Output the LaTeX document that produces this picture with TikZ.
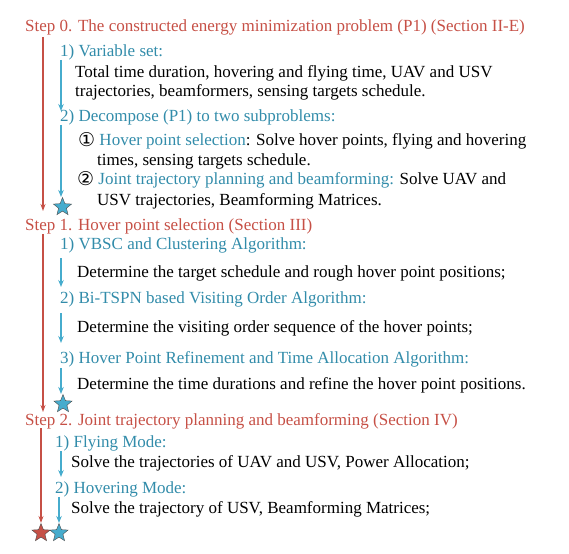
\documentclass[tikz,border=0pt]{standalone}
\usepackage{fontspec}
\setmainfont{Liberation Serif}
\newfontfamily\circfont{DejaVu Sans}
\usetikzlibrary{shapes.geometric,arrows.meta}
\definecolor{stepred}{RGB}{198,80,70}
\definecolor{subblue}{RGB}{50,140,170}
\definecolor{arrblue}{RGB}{70,172,205}
\tikzset{
  steptxt/.style={anchor=base west,inner sep=0pt,text=stepred,font=\fontsize{17}{20}\selectfont},
  subtxt/.style={anchor=base west,inner sep=0pt,text=subblue,font=\fontsize{17}{20}\selectfont},
  bodytxt/.style={anchor=base west,inner sep=0pt,text=black,font=\fontsize{17}{20}\selectfont},
  redarr/.style={draw=stepred,line width=1.4pt,-{Stealth[length=7pt,width=5pt]}},
  bluearr/.style={draw=arrblue,line width=1.8pt,-{Stealth[length=7pt,width=5.5pt]}},
  bluestar/.style={star,star points=5,star point ratio=2.3,minimum size=19pt,inner sep=0pt,fill=arrblue,draw=black!70,line width=0.4pt},
  redstar/.style={star,star points=5,star point ratio=2.3,minimum size=19pt,inner sep=0pt,fill=stepred,draw=black!70,line width=0.4pt}
}
\newcommand{\circnum}[1]{{\circfont\fontsize{19}{20}\selectfont\raisebox{-0.5pt}{#1}}}
\begin{document}
\begin{tikzpicture}[x=1pt,y=-1pt]
\useasboundingbox (0,0) rectangle (569,553);
% texts
\node[steptxt] (s0) at (25,32) {Step 0. The constructed energy minimization problem (P1) (Section II-E)};
\node[subtxt] (s0a) at (60,57) {1) Variable set:};
\node[bodytxt] (s0a1) at (75,78) {Total time duration, hovering and flying time, UAV and USV};
\node[bodytxt] (s0a2) at (75,97) {trajectories, beamformers, sensing targets schedule.};
\node[subtxt] (s0b) at (60,122) {2) Decompose (P1) to two subproblems:};
\node[bodytxt] (s0b1) at (78,146) {\circnum{①} \textcolor{subblue}{Hover point selection}: Solve hover points, flying and hovering};
\node[bodytxt] (s0b2) at (97,166) {times, sensing targets schedule.};
\node[bodytxt] (s0b3) at (77,185) {\circnum{②} \textcolor{subblue}{Joint trajectory planning and beamforming:} Solve UAV and};
\node[bodytxt] (s0b4) at (97,205) {USV trajectories, Beamforming Matrices.};
\node[steptxt] (s1) at (25,230) {Step 1. Hover point selection (Section III)};
\node[subtxt] (s1a) at (60,249) {1) VBSC and Clustering Algorithm:};
\node[bodytxt] (s1a1) at (77,277) {Determine the target schedule and rough hover point positions;};
\node[subtxt] (s1b) at (60,303) {2) Bi-TSPN based Visiting Order Algorithm:};
\node[bodytxt] (s1b1) at (77,332) {Determine the visiting order sequence of the hover points;};
\node[subtxt] (s1c) at (60,363) {3) Hover Point Refinement and Time Allocation Algorithm:};
\node[bodytxt] (s1c1) at (77,389) {Determine the time durations and refine the hover point positions.};
\node[steptxt] (s2) at (25,425) {Step 2. Joint trajectory planning and beamforming (Section IV)};
\node[subtxt] (s2a) at (55,447) {1) Flying Mode:};
\node[bodytxt] (s2a1) at (71,467) {Solve the trajectories of UAV and USV, Power Allocation;};
\node[subtxt] (s2b) at (55,493) {2) Hovering Mode:};
\node[bodytxt] (s2b1) at (71,513) {Solve the trajectory of USV, Beamforming Matrices;};
% stars
\node[bluestar] (st0) at (62.5,207) {};
\node[bluestar] (st1) at (63,404) {};
\node[redstar] (st2r) at (41,533) {};
\node[bluestar] (st2b) at (59,533) {};
% coordinates
\coordinate (r0a) at (43,37);  \coordinate (r0b) at (43,211);
\coordinate (r1a) at (43,234); \coordinate (r1b) at (43,412);
\coordinate (r2a) at (41,428);
\coordinate (b0a) at (61,60);  \coordinate (b0b) at (61,111);
\coordinate (b0c) at (61,125);
\coordinate (b1a) at (61,258); \coordinate (b1b) at (61,287);
\coordinate (b1c) at (61,313); \coordinate (b1d) at (61,343);
\coordinate (b1e) at (61,368);
\coordinate (b2a) at (61,451); \coordinate (b2b) at (61,477);
\coordinate (b2c) at (59,497);
% arrows
\draw[redarr] (r0a) -- (r0b);
\draw[redarr] (r1a) -- (r1b);
\draw[redarr] (r2a) -- (st2r.north);
\draw[bluearr] (b0a) -- (b0b);
\draw[bluearr] (b0c) -- (b0c |- st0.north);
\draw[bluearr] (b1a) -- (b1b);
\draw[bluearr] (b1c) -- (b1d);
\draw[bluearr] (b1e) -- (b1e |- st1.north);
\draw[bluearr] (b2a) -- (b2b);
\draw[bluearr] (b2c) -- (b2c |- st2b.north);
\end{tikzpicture}
\end{document}
